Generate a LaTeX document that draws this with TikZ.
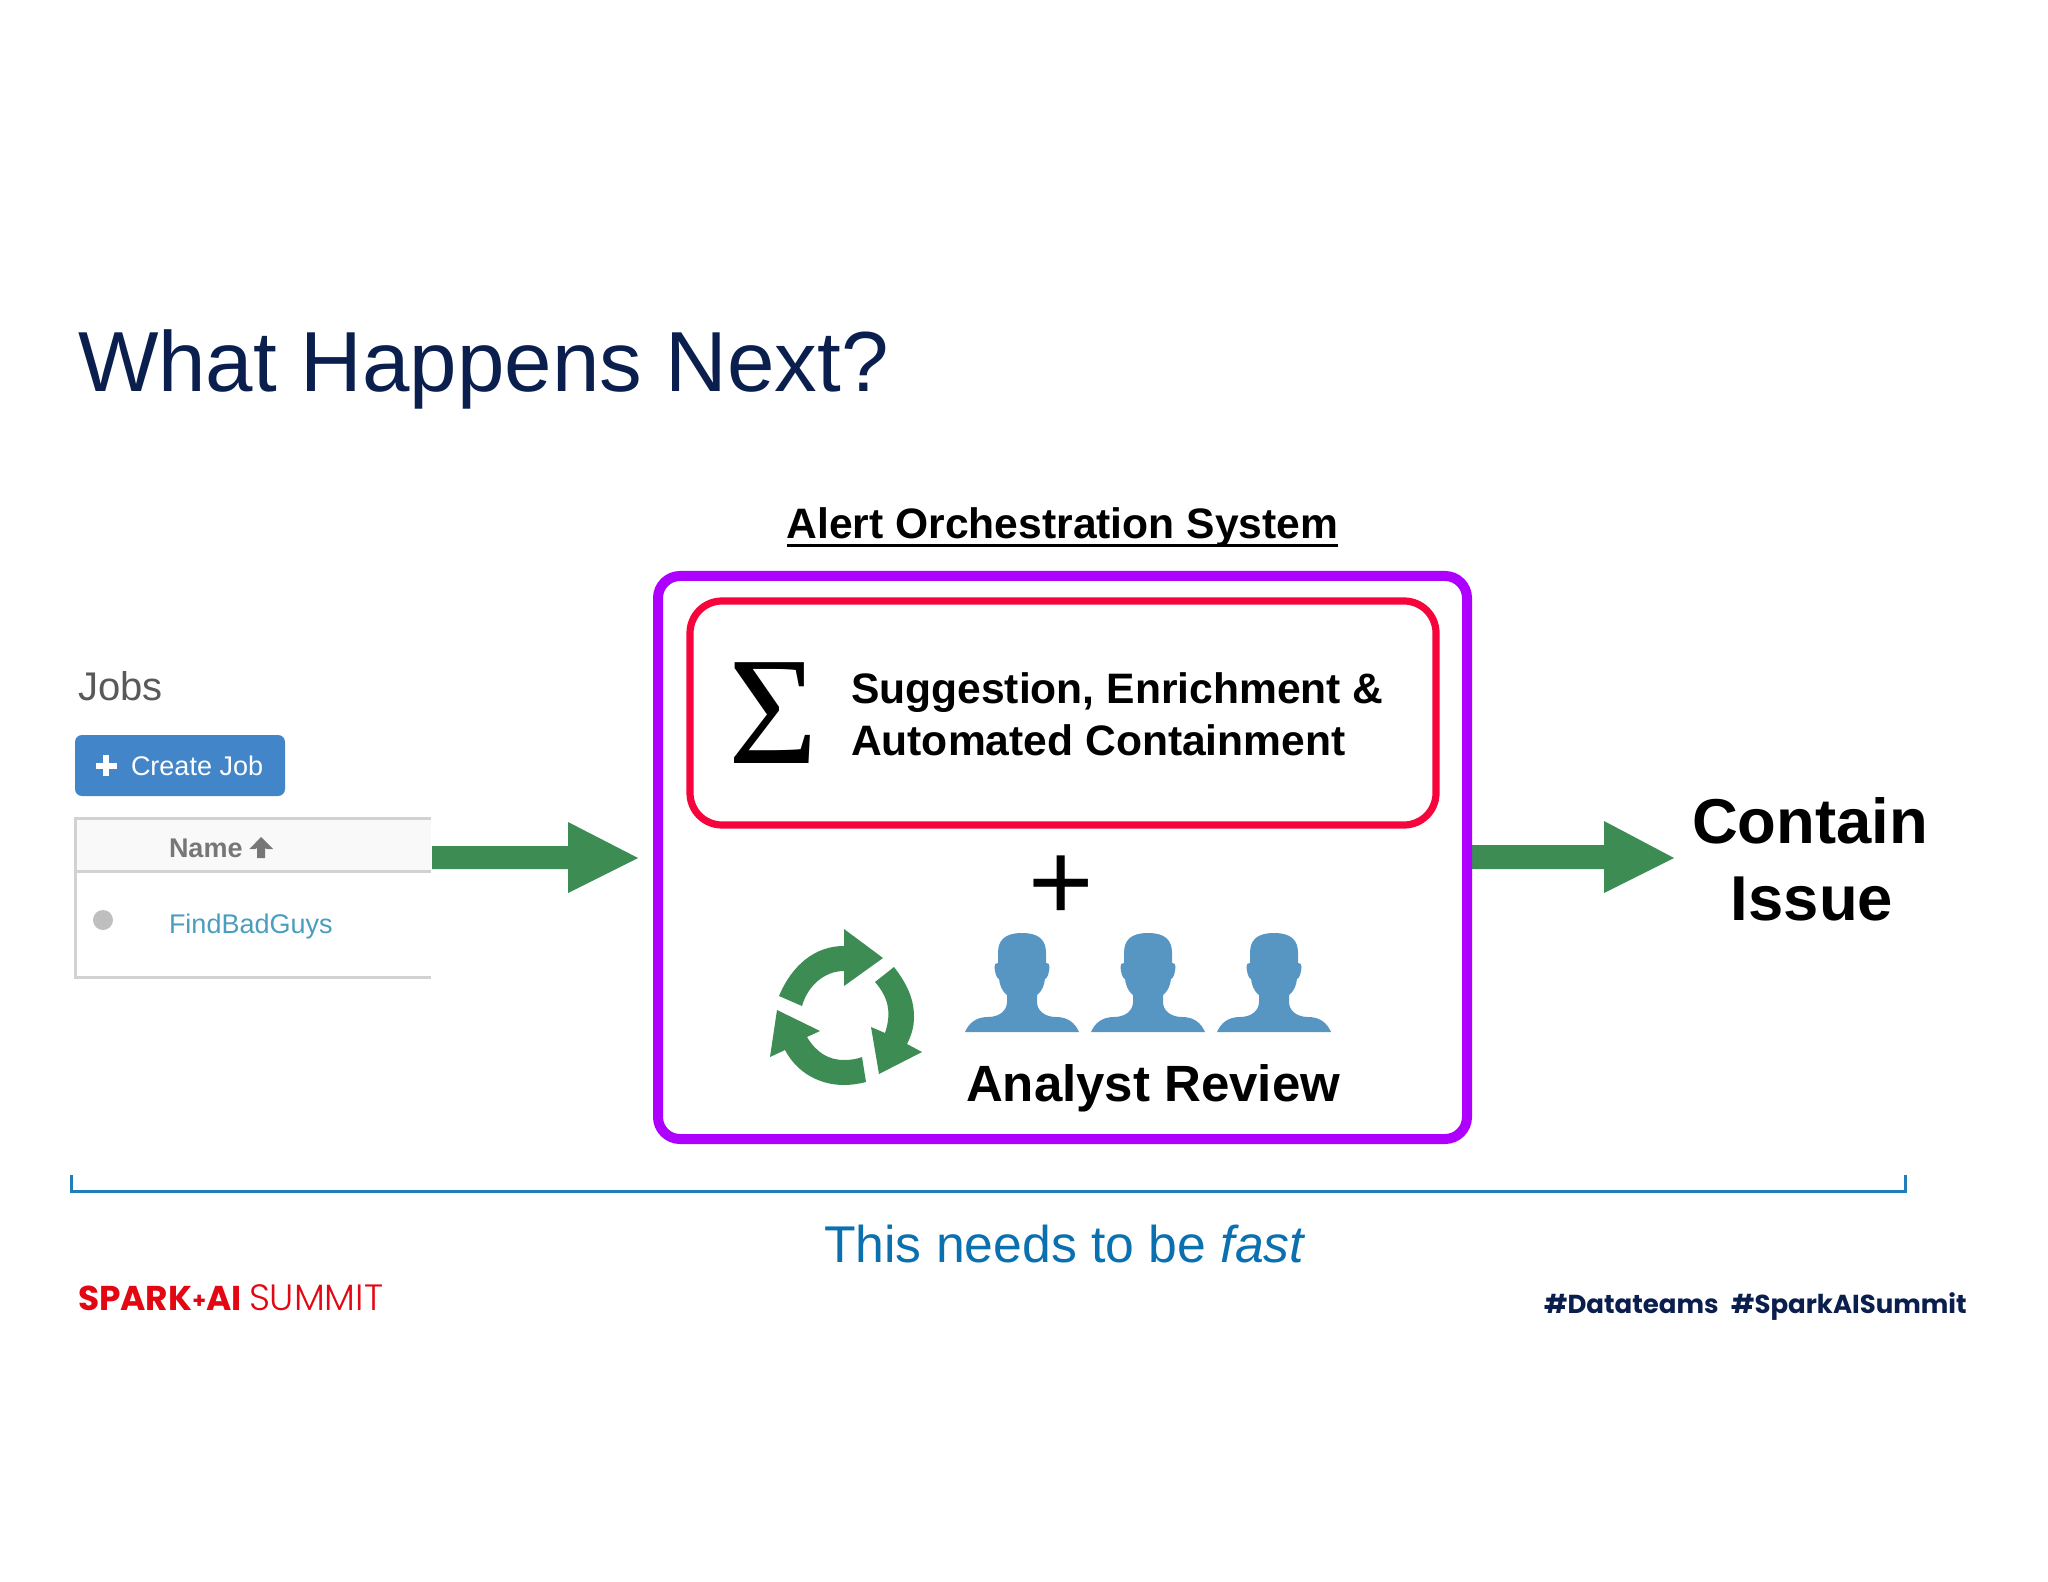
\documentclass[tikz,border=0pt]{standalone}
\usepackage{fontspec}
\setmainfont{Liberation Sans}
\newfontfamily\popb{Poppins}[UprightFont={* Bold}]
\newfontfamily\popl{Poppins}[UprightFont={* Light}]
\newfontfamily\serifsig{Liberation Serif}
\definecolor{navy}{HTML}{0B1F4F}
\definecolor{grn}{HTML}{3C8C54}
\definecolor{purp}{HTML}{AE00FF}
\definecolor{redb}{HTML}{F5053C}
\definecolor{btn}{HTML}{4285C8}
\definecolor{tline}{HTML}{D2D2D2}
\definecolor{hdr}{HTML}{F9F9F9}
\definecolor{linkc}{HTML}{4A9EBD}
\definecolor{grayt}{HTML}{777777}
\definecolor{pers}{HTML}{5796C3}
\definecolor{blu}{HTML}{0A70B0}
\definecolor{sred}{HTML}{E30613}
\tikzset{
 txt/.style={inner sep=0pt,outer sep=0pt,anchor=base west},
 ctxt/.style={inner sep=0pt,outer sep=0pt,anchor=base},
 person/.pic={
  \fill[pers] (0,-99) .. controls (17,-99) and (24,-92) .. (24,-79)
   -- (24,-69) .. controls (26,-69) and (28,-68) .. (27.5,-65)
   .. controls (27,-60) and (26,-54) .. (23,-53)
   .. controls (22,-47) and (21,-42) .. (15,-37)
   -- (15,-30) .. controls (15,-22) and (22,-15) .. (34,-15)
   .. controls (46,-15) and (53,-9) .. (57,0)
   -- (-57,0)
   .. controls (-53,-9) and (-46,-15) .. (-34,-15)
   .. controls (-22,-15) and (-15,-22) .. (-15,-30)
   -- (-15,-37)
   .. controls (-21,-42) and (-22,-47) .. (-23,-53)
   .. controls (-26,-54) and (-27,-60) .. (-27.5,-65)
   .. controls (-28,-68) and (-26,-69) .. (-24,-69)
   -- (-24,-79) .. controls (-24,-92) and (-17,-99) .. (0,-99) -- cycle;
 }
}
\begin{document}
\begin{tikzpicture}[x=0.5pt,y=-0.5pt]
\useasboundingbox (0,0) rectangle (2048,1582);
\fill[white] (0,0) rectangle (2048,1582);
% title
\node[txt,text=navy,font=\fontsize{42.65pt}{50pt}\selectfont] (title) at (78,392) {What Happens Next?};
% jobs panel
\node[txt,text=black!65,font=\fontsize{20pt}{24pt}\selectfont] (jobs) at (78,700) {Jobs};
\fill[btn] (75,735) [rounded corners=3.5pt] rectangle (285,796);
\fill[white] (103,755) rectangle (109,776);
\fill[white] (96,762.5) rectangle (117,768.5);
\node[txt,text=white,font=\fontsize{13.5pt}{16pt}\selectfont] (create) at (131,775) {Create Job};
\fill[hdr] (75,818) rectangle (431,871);
\draw[tline,line width=1.5pt] (431,818) -- (75.5,818) -- (75.5,977) -- (431,977);
\draw[tline,line width=1.5pt] (75.5,871) -- (431,871);
\node[txt,text=grayt,font=\fontsize{13.5pt}{16pt}\selectfont\bfseries] (name) at (169,857) {Name};
\fill[grayt] (261,837) -- (273,849) -- (267,849) -- (265,848) -- (265,858) -- (257,858) -- (257,848) -- (255,849) -- (249.5,849) -- cycle;
\fill[black!25] (103,920) circle[radius=10];
\node[txt,text=linkc,font=\fontsize{13.5pt}{16pt}\selectfont] (bad) at (169,933) {FindBadGuys};
% green arrows
\fill[grn] (432,846) -- (568,846) -- (568,822) -- (638,858) -- (568,893) -- (568,869) -- (432,869) -- cycle;
\fill[grn] (1470,845) -- (1604,845) -- (1604,821) -- (1674,858) -- (1604,893) -- (1604,869) -- (1470,869) -- cycle;
% boxes
\node[txt,anchor=base,font=\fontsize{21.3pt}{26pt}\selectfont\bfseries] (alert) at (1062.5,539) {Alert Orchestration System};
\draw[line width=1.5pt] (alert.base west |- 0,546) -- (alert.base east |- 0,546);
\draw[purp,line width=5pt,rounded corners=11pt] (658,576) rectangle (1467,1139);
\draw[redb,line width=3.6pt,rounded corners=16pt] (690,601) rectangle (1436,825);
\node[ctxt,font=\serifsig\fontsize{77pt}{90pt}\selectfont] (sigma) at (773,763) {Σ};
\node[txt,font=\fontsize{21.3pt}{26pt}\selectfont\bfseries] (s1) at (851,703) {Suggestion, Enrichment \&};
\node[txt,font=\fontsize{21.3pt}{26pt}\selectfont\bfseries] (s2) at (851,755) {Automated Containment};
\node[ctxt,font=\fontsize{56pt}{60pt}\selectfont] (plus) at (1061,920) {+};
% recycle
\fill[grn] (779,996) .. controls (792,965) and (815,946) .. (844,946) -- (844,929) -- (883,958) -- (844,986) -- (844,971) .. controls (825,971) and (808,985) .. (802,1006) -- cycle;
\fill[grn] (894,967) .. controls (908,985) and (914,1000) .. (914,1017) .. controls (914,1028) and (911,1036) .. (907,1044) -- (922,1052) -- (879,1074) -- (871,1027) -- (885,1033) .. controls (892,1012) and (888,997) .. (875,982) -- cycle;
\fill[grn] (866,1082) .. controls (858,1084) and (851,1085) .. (844,1085) .. controls (820,1085) and (797,1073) .. (785,1050) -- (770,1057) -- (777,1010) -- (820,1031) -- (807,1037) .. controls (816,1052) and (828,1060) .. (844,1060) .. controls (851,1060) and (857,1059) .. (862,1057) -- cycle;
% persons
\pic at (1022,1032) {person};
\pic at (1148,1032) {person};
\pic at (1274,1032) {person};
\node[txt,font=\fontsize{25.5pt}{30pt}\selectfont\bfseries] (analyst) at (966,1101) {Analyst Review};
% contain
\node[ctxt,font=\fontsize{31.7pt}{36pt}\selectfont\bfseries] (c1) at (1810,843) {Contain};
\node[ctxt,font=\fontsize{31.7pt}{36pt}\selectfont\bfseries] (c2) at (1812,920) {Issue};
% bracket
\draw[blu!90,line width=1.2pt] (71.5,1175) -- (71.5,1191.5) -- (1905.5,1191.5) -- (1905.5,1175);
\node[ctxt,text=blu,font=\fontsize{25.85pt}{30pt}\selectfont] (fast) at (1065,1262) {This needs to be \textit{fast}};
% footer
\node[txt,text=sred,font=\popb\fontsize{17.2pt}{20pt}\selectfont] (spark) at (78,1310) {SPARK\raisebox{1pt}{\fontsize{11pt}{12pt}\selectfont +}AI};
\node[txt,text=sred,font=\popl\fontsize{18.3pt}{20pt}\selectfont] (summit) at (249,1310) {SUMMIT};
\node[txt,text=navy,font=\popb\fontsize{13pt}{18pt}\selectfont] (tags) at (1544,1313) {\#Datateams};
\node[txt,text=navy,font=\popb\fontsize{13pt}{18pt}\selectfont] (tags2) at (1731,1313) {\#SparkAISummit};
\end{tikzpicture}
\end{document}
